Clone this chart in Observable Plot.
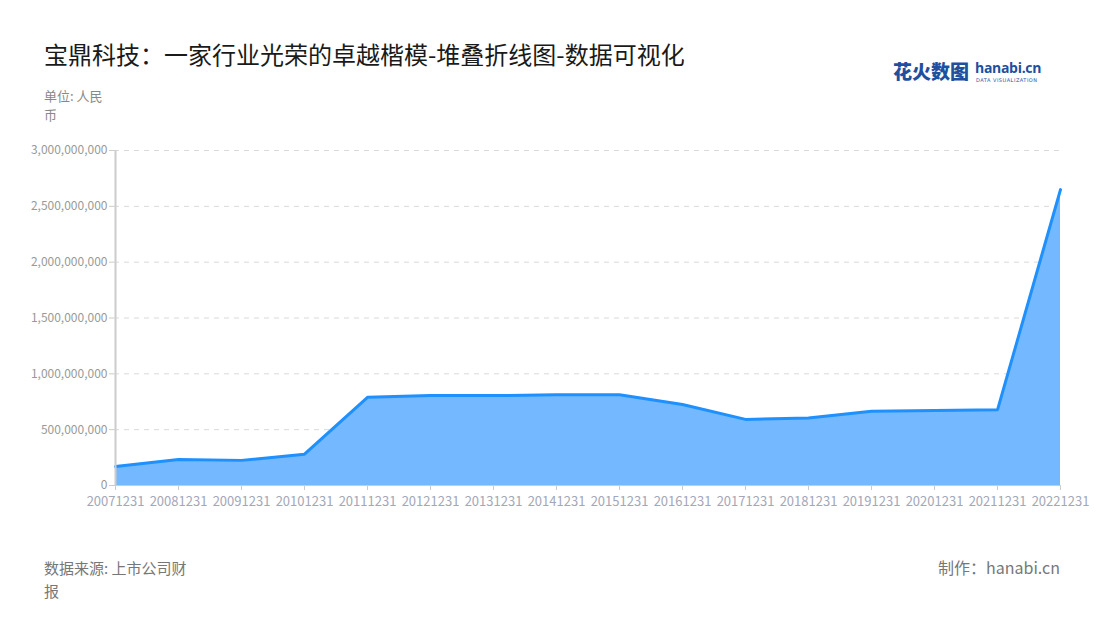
<!DOCTYPE html>
<html>
<head>
<meta charset="utf-8">
<script src="https://cdn.jsdelivr.net/npm/d3@7"></script>
<script src="https://cdn.jsdelivr.net/npm/@observablehq/plot@0.6"></script>
<style>
  html, body { margin: 0; padding: 0; background: #fff; }
  #wrap { position: relative; width: 1100px; height: 620px; font-family: "Noto Sans CJK SC", "Noto Sans", sans-serif; overflow: hidden; }
  #title { position: absolute; left: 44px; top: 37px; font-size: 24px; line-height: 34px; color: #1a1a1a; white-space: nowrap; }
  #unit { position: absolute; left: 44px; top: 86px; width: 66px; font-size: 13px; line-height: 19px; color: #888; }
  #chart { position: absolute; left: 0; top: 130px; }
  #source { position: absolute; left: 44px; top: 556px; width: 156px; font-size: 15px; line-height: 23px; color: #777; }
  #maker { position: absolute; right: 40px; top: 555px; font-size: 16px; line-height: 24px; color: #777; white-space: nowrap; }
  #logo-cn { position: absolute; left: 893px; top: 58px; font-size: 19px; line-height: 26px; font-weight: 900; color: #1f4f9f; white-space: nowrap; }
  #logo-en { position: absolute; left: 975px; top: 60px; font-size: 14px; line-height: 16px; font-weight: 700; color: #1f4f9f; font-family: "Open Sans", sans-serif; white-space: nowrap; letter-spacing: -0.3px; }
  #logo-sub { position: absolute; left: 976px; top: 77px; font-size: 5px; line-height: 6px; color: #1f4f9f; letter-spacing: 0.5px; font-family: "DejaVu Sans", sans-serif; white-space: nowrap; }
</style>
</head>
<body>
<div id="wrap">
  <div id="title">宝鼎科技：一家行业光荣的卓越楷模-堆叠折线图-数据可视化</div>
  <div id="logo-cn">花火数图</div>
  <div id="logo-en">hanabi.cn</div>
  <div id="logo-sub">DATA VISUALIZATION</div>
  <div id="unit">单位: 人民币</div>
  <div id="chart"></div>
  <div id="source">数据来源: 上市公司财报</div>
  <div id="maker">制作：hanabi.cn</div>
</div>
<script>
const dates = ["20071231","20081231","20091231","20101231","20111231","20121231","20131231","20141231","20151231","20161231","20171231","20181231","20191231","20201231","20211231","20221231"];
const values = [170000000, 233000000, 225000000, 280000000, 790000000, 805000000, 805000000, 812000000, 812000000, 725000000, 592000000, 605000000, 665000000, 672000000, 678000000, 2650000000];
const yTicks = [0, 500000000, 1000000000, 1500000000, 2000000000, 2500000000, 3000000000];

const data = dates.map((d, i) => ({date: d, value: values[i]}));
const gridTicks = yTicks.filter(t => t > 0);

const chart = Plot.plot({
  width: 1100,
  height: 390,
  marginLeft: 114,
  marginRight: 40,
  marginTop: 20,
  marginBottom: 35,
  style: {fontFamily: "'Noto Sans CJK SC', 'Noto Sans', sans-serif", fontSize: "12px", background: "transparent", overflow: "visible"},
  x: {type: "point", domain: dates, padding: 0, label: null},
  y: {domain: [0, 3000000000], label: null},
  marks: [
    Plot.gridY(gridTicks, {stroke: "#d9d9d9", strokeOpacity: 1, strokeDasharray: "5,5"}),
    Plot.areaY(data, {x: "date", y: "value", fill: "#74b9ff", fillOpacity: 1}),
    Plot.lineY(data, {x: "date", y: "value", stroke: "#1e90ff", strokeWidth: 3, strokeLinejoin: "miter"}),
    Plot.ruleX([dates[0]], {stroke: "#cccccc", strokeWidth: 2}),
    Plot.ruleY([0], {stroke: "#cccccc", strokeWidth: 1}),
    Plot.axisY(yTicks, {tickSize: 5, tickPadding: 2, tickFormat: d3.format(","), stroke: "#cccccc", fill: "#999999", label: null, fontSize: 12}),
    Plot.axisX({tickSize: 5, tickPadding: 6, stroke: "#cccccc", fill: "#a3a7b7", label: null, fontSize: 13})
  ]
});
document.getElementById("chart").appendChild(chart);
</script>
</body>
</html>
